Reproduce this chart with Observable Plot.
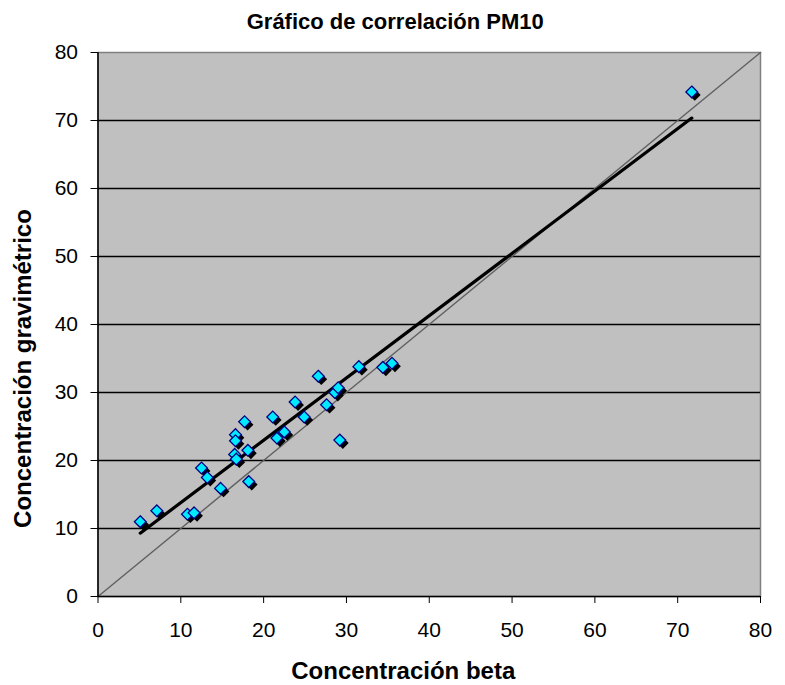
<!DOCTYPE html>
<html>
<head>
<meta charset="utf-8">
<script src="https://cdn.jsdelivr.net/npm/d3@7"></script>
<script src="https://cdn.jsdelivr.net/npm/@observablehq/plot@0.6"></script>
<style>
  body { margin: 0; background: #fff; }
  svg { font-family: "Liberation Sans", Arial, sans-serif; }
</style>
</head>
<body>
<div id="chart"></div>
<script>
const titleText = "Gráfico de correlación PM10";
const xLabel = "Concentración beta";
const yLabel = "Concentración gravimétrico";
const ticks = [0, 10, 20, 30, 40, 50, 60, 70, 80];

const beta = [5.1, 7.1, 10.8, 11.6, 12.5, 13.2, 14.8, 16.6, 16.6, 16.5, 16.7, 17.7, 18.1, 18.2,
              21.1, 21.6, 22.5, 23.8, 24.9, 26.6, 27.6, 28.6, 29.0, 29.2, 31.5, 34.4, 35.5, 71.7];
const grav = [11.0, 12.6, 12.1, 12.3, 18.9, 17.5, 15.9, 23.8, 22.9, 20.9, 20.2, 25.7, 21.5, 16.9,
              26.4, 23.3, 24.2, 28.6, 26.4, 32.4, 28.2, 30.0, 30.7, 23.0, 33.8, 33.7, 34.3, 74.2];
const identity = [0, 80];

const data = beta.map((b, i) => ({beta: b, grav: grav[i]}));
const diag = identity.map(v => ({x: v, y: v}));

const chart = Plot.plot({
  width: 785,
  height: 685,
  marginTop: 52,
  marginBottom: 89,
  marginLeft: 97.5,
  marginRight: 25,
  style: {fontSize: "21px", color: "#000", background: "#fff"},
  x: {domain: [0, 80], ticks: ticks},
  y: {domain: [0, 80], ticks: ticks},
  marks: [
    Plot.frame({fill: "#c0c0c0", stroke: "#808080", strokeWidth: 1.5}),
    Plot.gridY(ticks.filter(t => t > 0 && t < 80), {stroke: "#000", strokeOpacity: 1, strokeWidth: 1.6}),
    Plot.line(diag, {x: "x", y: "y", stroke: "#606060", strokeWidth: 1.4}),
    Plot.linearRegressionY(data, {x: "beta", y: "grav", stroke: "#000", strokeWidth: 3.2, ci: 0}),
    Plot.dot(data, {x: "beta", y: "grav", symbol: "diamond2", r: 5.3, fill: "#000", dx: 3, dy: 3}),
    Plot.dot(data, {x: "beta", y: "grav", symbol: "diamond2", r: 5.3, fill: "#00eaff", stroke: "#000080", strokeWidth: 1.3}),
    Plot.ruleX([0], {stroke: "#000", strokeWidth: 1.5}),
    Plot.ruleY([0], {stroke: "#000", strokeWidth: 1.5}),
    Plot.axisX({ticks: ticks, tickSize: 7, tickPadding: 19, fontSize: 21, label: null}),
    Plot.axisY({ticks: ticks, tickSize: 7, tickPadding: 13, fontSize: 21, label: null}),
    Plot.text([xLabel], {frameAnchor: "bottom", textAnchor: "middle", lineAnchor: "middle", dx: -26, dy: 75,
                         text: d => d, fontSize: 24, fontWeight: "bold"}),
    Plot.text([yLabel], {frameAnchor: "left", textAnchor: "middle", lineAnchor: "middle", dx: -74.5, dy: 44, rotate: -90,
                         text: d => d, fontSize: 24, fontWeight: "bold"}),
    Plot.text([titleText], {frameAnchor: "top", textAnchor: "middle", lineAnchor: "middle", dx: -34, dy: -30.5,
                            text: d => d, fontSize: 22, fontWeight: "bold"})
  ]
});
document.getElementById("chart").appendChild(chart);
</script>
</body>
</html>
